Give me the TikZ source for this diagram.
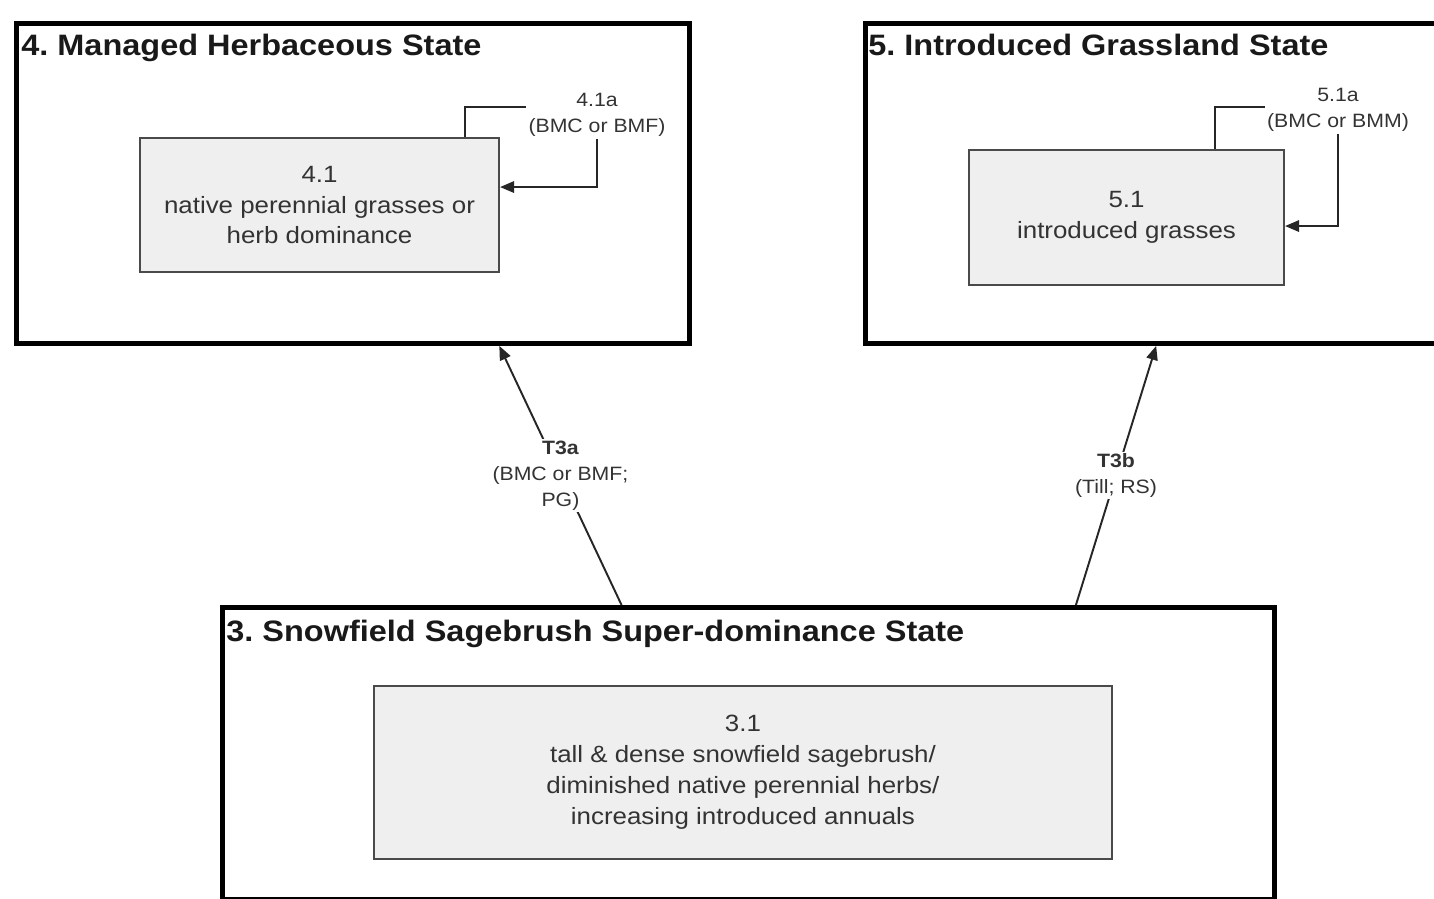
\documentclass[tikz,border=0pt]{standalone}
\usepackage{fontspec}
\setmainfont{Liberation Sans}[FakeStretch=1.1]
\usetikzlibrary{arrows.meta,calc}

\definecolor{boxfill}{HTML}{EFEFEF}
\definecolor{boxgray}{HTML}{4A4A4A}
\definecolor{inktext}{HTML}{333333}
\frenchspacing

\begin{document}
\begin{tikzpicture}[x=0.02cm, y=-0.02cm,
  statebox/.style={draw=black, line width=2.8pt, inner sep=0pt, anchor=north west},
  phasebox/.style={draw=boxgray, line width=1.2pt, fill=boxfill, inner sep=0pt, anchor=north west,
    align=center, text=inktext, font=\fontsize{13.4}{17.6}\selectfont},
  statetitle/.style={anchor=base west, inner sep=0pt, text=black!90, font=\bfseries\fontsize{16.8}{20}\selectfont},
  pathlabel/.style={align=center, text=inktext, inner sep=1pt, font=\fontsize{11}{14.7}\selectfont},
  link/.style={line width=1.1pt, draw=black!85},
  headarrow/.style={-{Triangle[length=8pt,width=6.5pt]}}
]
\useasboundingbox (0,0) rectangle (1434,899);

% State boxes
\node[statebox, minimum width=13.46cm, minimum height=6.4cm] (s4) at (14,21) {};
\node[statebox, minimum width=11.56cm, minimum height=6.4cm] (s5) at (863,21) {};
\node[statebox, minimum width=21.04cm, minimum height=5.84cm] (s3) at (220,605) {};

% State titles
\node[statetitle] (t4) at (21,55) {4. Managed Herbaceous State};
\node[statetitle] (t5) at (868,55) {5. Introduced Grassland State};
\node[statetitle] (t3) at (226,641) {3. Snowfield Sagebrush Super-dominance State};

% Community phases
\node[phasebox, minimum width=7.18cm, minimum height=2.68cm] (p41) at (139,137) {4.1\\native perennial grasses or\\herb dominance};
\node[phasebox, minimum width=6.3cm, minimum height=2.7cm] (p51) at (968,149) {5.1\\introduced grasses};
\node[phasebox, minimum width=14.76cm, minimum height=3.46cm] (p31) at (373,685) {3.1\\tall \& dense snowfield sagebrush/\\diminished native perennial herbs/\\increasing introduced annuals};

% Pathway labels
\node[pathlabel] (l41a) at (597,115) {4.1a\\(BMC or BMF)};
\node[pathlabel] (l51a) at (1338,110) {5.1a\\(BMC or BMM)};

% Community pathways
\draw[link] ($(p41.north west)!0.903!(p41.north east)$) |- ([yshift=0.16cm]l41a.west);
\draw[link, headarrow] (l41a.south) |- ([yshift=0.36cm]p41.east);
\draw[link] ($(p51.north west)!0.778!(p51.north east)$) |- ([yshift=0.06cm]l51a.west);
\draw[link, headarrow] (l51a.south) |- ([yshift=-0.17cm]p51.east);

% Transitions
\draw[link, headarrow] ($(s3.north west)!0.380!(s3.north east)$) -- node[pathlabel, fill=white] (l3a) {\textbf{T3a}\\(BMC or BMF;\\PG)} ($(s4.south west)!0.716!(s4.south east)$);
\draw[link, headarrow] ($(s3.north west)!0.810!(s3.north east)$) -- node[pathlabel, fill=white] (l3b) {\textbf{T3b}\\(Till; RS)} ($(s5.south west)!0.503!(s5.south east)$);
\end{tikzpicture}
\end{document}
